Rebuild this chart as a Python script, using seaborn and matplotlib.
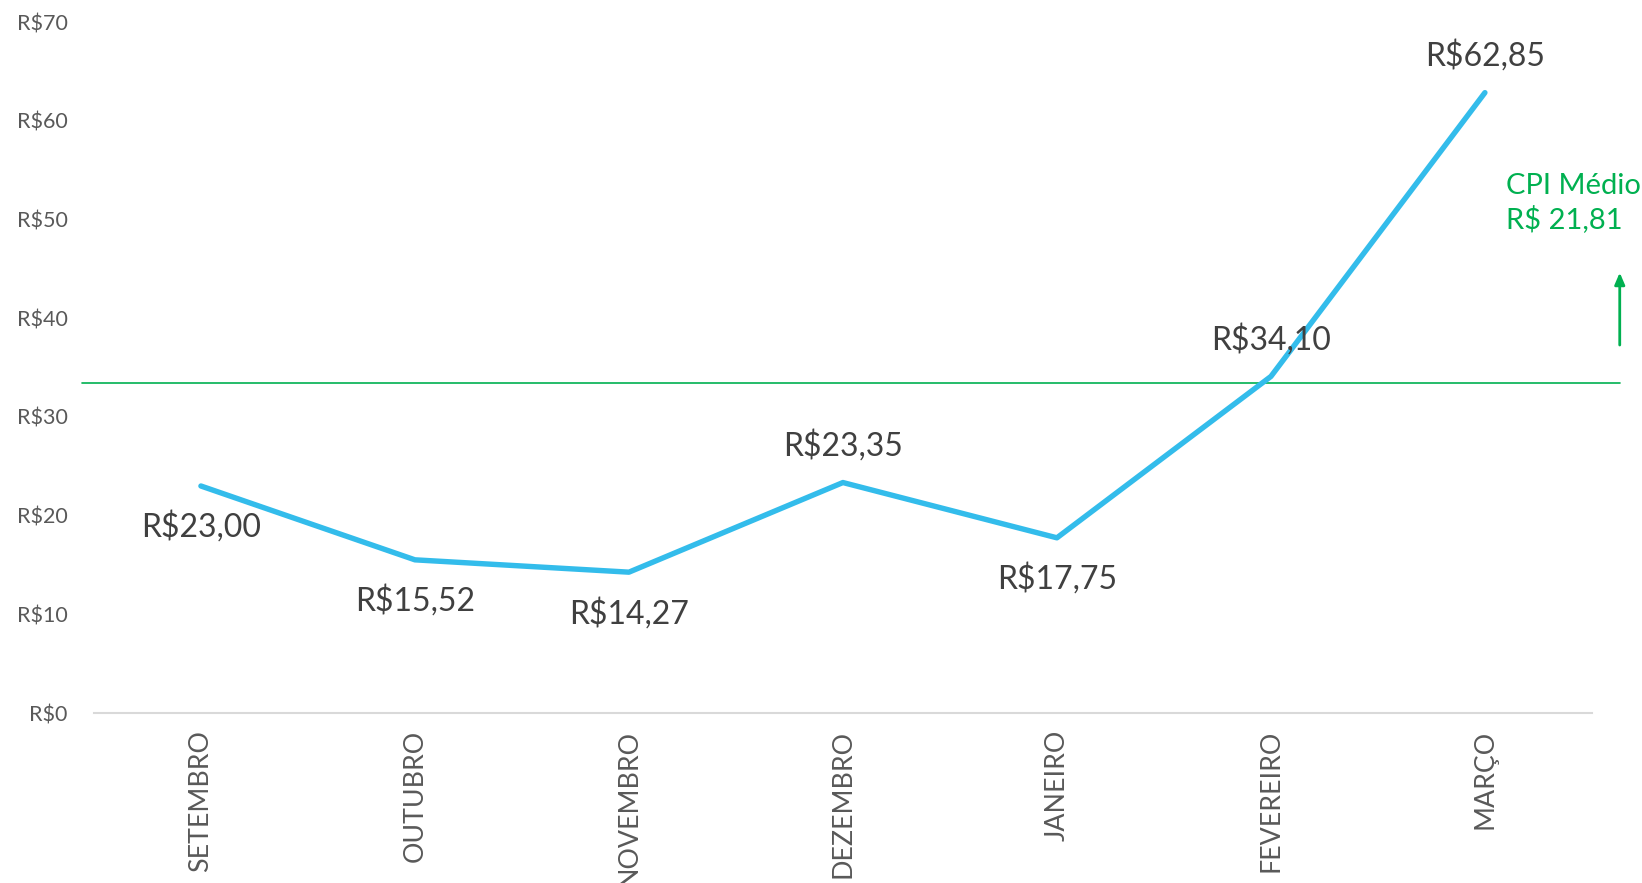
import matplotlib.pyplot as plt
import pandas as pd
import seaborn as sns

# months and average cost per install
months = ["SETEMBRO", "OUTUBRO", "NOVEMBRO", "DEZEMBRO", "JANEIRO", "FEVEREIRO", "MARÇO"]
cpi = [23.00, 15.52, 14.27, 23.35, 17.75, 34.10, 62.85]
cpi_labels = ["R$23,00", "R$15,52", "R$14,27", "R$23,35", "R$17,75", "R$34,10", "R$62,85"]
label_side = ["below", "below", "below", "above", "below", "above", "above"]
y_ticks = [0, 10, 20, 30, 40, 50, 60, 70]
ref_value = 33.4
ref_text = "CPI Médio\nR$ 21,81"

df = pd.DataFrame({"pos": range(len(months)), "cpi": cpi})

sns.set_style("white")
plt.rcParams["font.family"] = ["Lato", "DejaVu Sans"]

fig = plt.figure(figsize=(16.42, 8.83), dpi=100)
ax = fig.add_axes([0.0572, 0.1925, 0.9123, 0.7825])

sns.lineplot(data=df, x="pos", y="cpi", color="#33BCEB", linewidth=3.9,
             solid_capstyle="round", ax=ax)

# reference line for average CPI (extends past the plot area)
ax.plot([-0.556, 6.63], [ref_value, ref_value], color="#00B050", linewidth=1.2,
        clip_on=False, zorder=1)
ax.annotate("", xy=(6.63, 44.9), xytext=(6.63, 37.0),
            arrowprops=dict(arrowstyle="-|>,head_length=0.7,head_width=0.3",
                            color="#00B050", lw=2),
            annotation_clip=False)
ax.text(6.10, 51.7, ref_text, color="#00B050", fontsize=21,
        ha="left", va="center", linespacing=1.25)

# value labels
for i, (v, lab, side) in enumerate(zip(cpi, cpi_labels, label_side)):
    dy = 26.5 if side == "above" else -29.5
    ax.annotate(lab, xy=(i, v), xytext=(0, dy), textcoords="offset points",
                ha="center", va="center", fontsize=23, color="#404040")

ax.set_xlim(-0.5, 6.5)
ax.set_ylim(0, 70)
ax.set_xticks(range(len(months)))
ax.set_xticklabels(months, rotation=90, fontsize=19.3, color="#595959", va="top")
ax.set_yticks(y_ticks)
ax.set_yticklabels([f"R${t}" for t in y_ticks], fontsize=15.5, color="#595959")
ax.tick_params(axis="x", length=0, pad=12)
ax.tick_params(axis="y", length=0, pad=19)
ax.set_xlabel("")
ax.set_ylabel("")

for side in ["top", "right", "left"]:
    ax.spines[side].set_visible(False)
ax.spines["bottom"].set_color("#D9D9D9")
ax.spines["bottom"].set_linewidth(1.5)

fig.savefig("out.png", dpi=100)
